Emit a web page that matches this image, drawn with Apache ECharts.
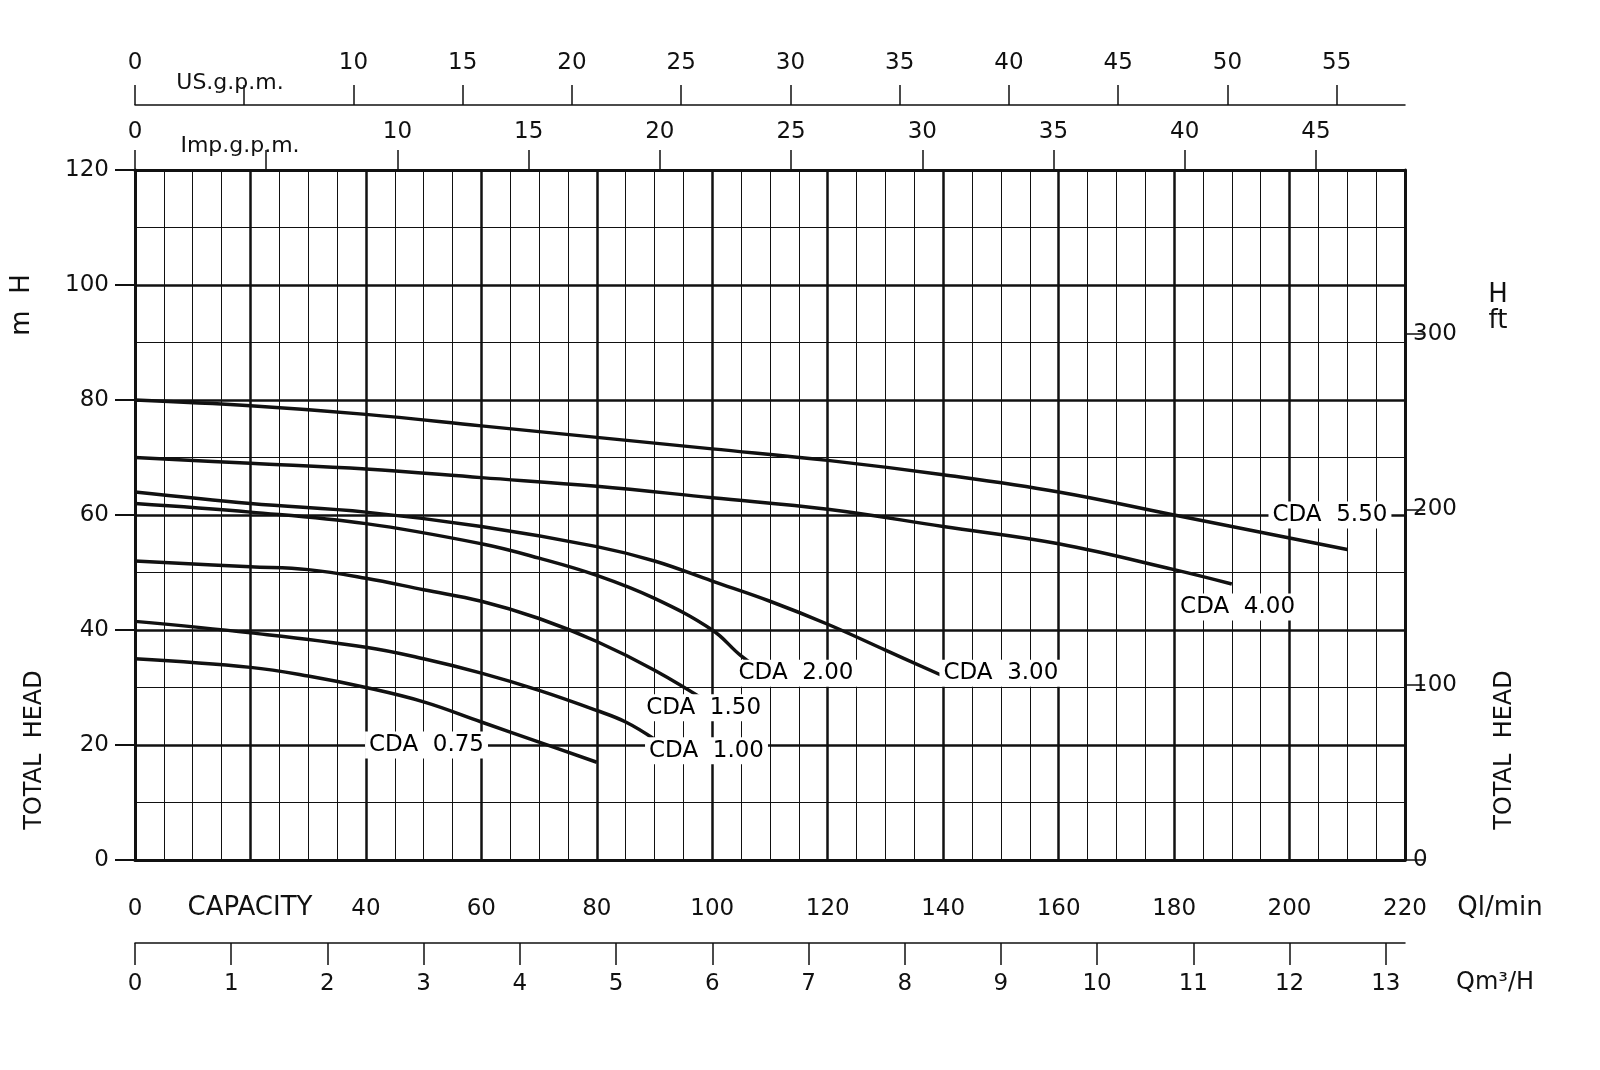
<!DOCTYPE html>
<html><head><meta charset="utf-8">
<script src="https://cdn.jsdelivr.net/npm/echarts@6/dist/echarts.min.js"></script>
<style>html,body{margin:0;background:#fff}#c{width:1600px;height:1070px}</style>
</head><body><div id="c"></div>
<script>
const cda075=[[0,35],[20,33.5],[30,32],[40,30],[50,27.5],[60,24],[70,20.5],[80,17]];
const cda100=[[0,41.5],[20,39.5],[40,37],[50,35],[60,32.5],[70,29.5],[80,26],[85,24],[90,21]];
const cda150=[[0,52],[20,51],[30,50.5],[40,49],[50,47],[60,45],[70,42],[80,38],[90,33],[100,27]];
const cda200=[[0,62],[20,60.5],[40,58.5],[60,55],[70,52.5],[80,49.5],[90,45.5],[100,40],[105,35.5],[110,32]];
const cda300=[[0,64],[20,62],[40,60.5],[60,58],[80,54.5],[90,52],[100,48.5],[110,45],[120,41],[130,36.5],[140,32]];
const cda400=[[0,70],[20,69],[40,68],[60,66.5],[80,65],[100,63],[120,61],[140,58],[160,55],[180,50.5],[190,48]];
const cda550=[[0,80],[20,79],[40,77.5],[60,75.5],[80,73.5],[100,71.5],[120,69.5],[140,67],[160,64],[180,60],[200,56],[210,54]];
const curveNames=['CDA 0.75','CDA 1.00','CDA 1.50','CDA 2.00','CDA 3.00','CDA 4.00','CDA 5.50'];
const labelPos=[[50.5,20],[99,19],[98.5,26.5],[114.5,32.5],[150,32.5],[191,44],[207,60]];
const F='DejaVu Sans';
const ch=echarts.init(document.getElementById('c'));
const txt=(x,y,t,rot,size)=>({type:'text',x,y,rotation:rot||0,style:{text:t,font:(size||24)+'px '+F,fill:'#111',align:'center',verticalAlign:'middle'}});
const lbl={color:'#111',fontSize:23,fontFamily:F};
const AL=(w)=>({show:true,onZero:false,lineStyle:{color:'#111',width:w}});
ch.setOption({
 animation:false,
 grid:{left:135,right:195,top:170,bottom:210},
 xAxis:[
  {type:'value',min:0,max:220,interval:20,position:'bottom',axisLine:AL(3),axisTick:{show:false},
   axisLabel:{...lbl,margin:38,formatter:v=>v===20?'':v},
   splitLine:{show:true,lineStyle:{color:'#111',width:2.5}},minorTick:{show:false,splitNumber:4},minorSplitLine:{show:true,lineStyle:{color:'#111',width:1}}},
  {type:'value',min:0,max:220/16.6667,interval:1,position:'bottom',offset:83,axisLine:AL(1.5),axisTick:{show:true,length:22,lineStyle:{color:'#111',width:1.5}},
   axisLabel:{...lbl,margin:30,showMaxLabel:false},splitLine:{show:false}},
  {type:'value',min:0,max:220/3.785,interval:5,position:'top',offset:65,axisLine:AL(1.5),axisTick:{show:true,length:20,lineStyle:{color:'#111',width:1.5}},
   axisLabel:{...lbl,margin:30,showMaxLabel:false,formatter:v=>v===5?'':v},splitLine:{show:false}},
  {type:'value',min:0,max:220/4.546,interval:5,position:'top',offset:0,axisLine:AL(3),axisTick:{show:true,length:20,lineStyle:{color:'#111',width:1.5}},
   axisLabel:{...lbl,margin:26,showMaxLabel:false,formatter:v=>v===5?'':v},splitLine:{show:false}}
 ],
 yAxis:[
  {type:'value',min:0,max:120,interval:20,position:'left',axisLine:AL(3),axisTick:{show:true,length:20,lineStyle:{color:'#111',width:2}},
   axisLabel:{...lbl,margin:26},splitLine:{show:true,lineStyle:{color:'#111',width:2.5}},minorTick:{show:false,splitNumber:2},minorSplitLine:{show:true,lineStyle:{color:'#111',width:1}}},
  {type:'value',min:0,max:120/0.3048,interval:100,position:'right',axisLine:AL(3),axisTick:{show:true,length:20,lineStyle:{color:'#111',width:1.5}},
   axisLabel:{...lbl,margin:8,showMaxLabel:false},splitLine:{show:false}}
 ],
 series:[cda075,cda100,cda150,cda200,cda300,cda400,cda550].map((d,i)=>({type:'line',name:curveNames[i],data:d,smooth:0.4,symbol:'none',lineStyle:{color:'#111',width:3.5},z:3}))
 .concat([{type:'scatter',data:labelPos.map((p,i)=>({value:p,name:curveNames[i]})),symbolSize:0,z:5,itemStyle:{opacity:1},
   label:{show:true,position:'inside',formatter:p=>p.name.replace(' ','  '),color:'#000',opacity:1,fontSize:23,fontFamily:F,backgroundColor:'#fff',padding:[2,4]}}]),
 graphic:[
  txt(22,305,'m  H',Math.PI/2,26),
  txt(35,750,'TOTAL  HEAD',Math.PI/2),
  txt(1498,308,'H\nft',0,26),
  txt(1505,750,'TOTAL  HEAD',Math.PI/2),
  txt(250,908,'CAPACITY',0,26),
  txt(1500,908,'Ql/min',0,26),
  txt(1495,983,'Qm³/H',0,24),
  txt(230,83,'US.g.p.m.',0,22),
  txt(240,146,'Imp.g.p.m.',0,22)
 ]
});
</script></body></html>
